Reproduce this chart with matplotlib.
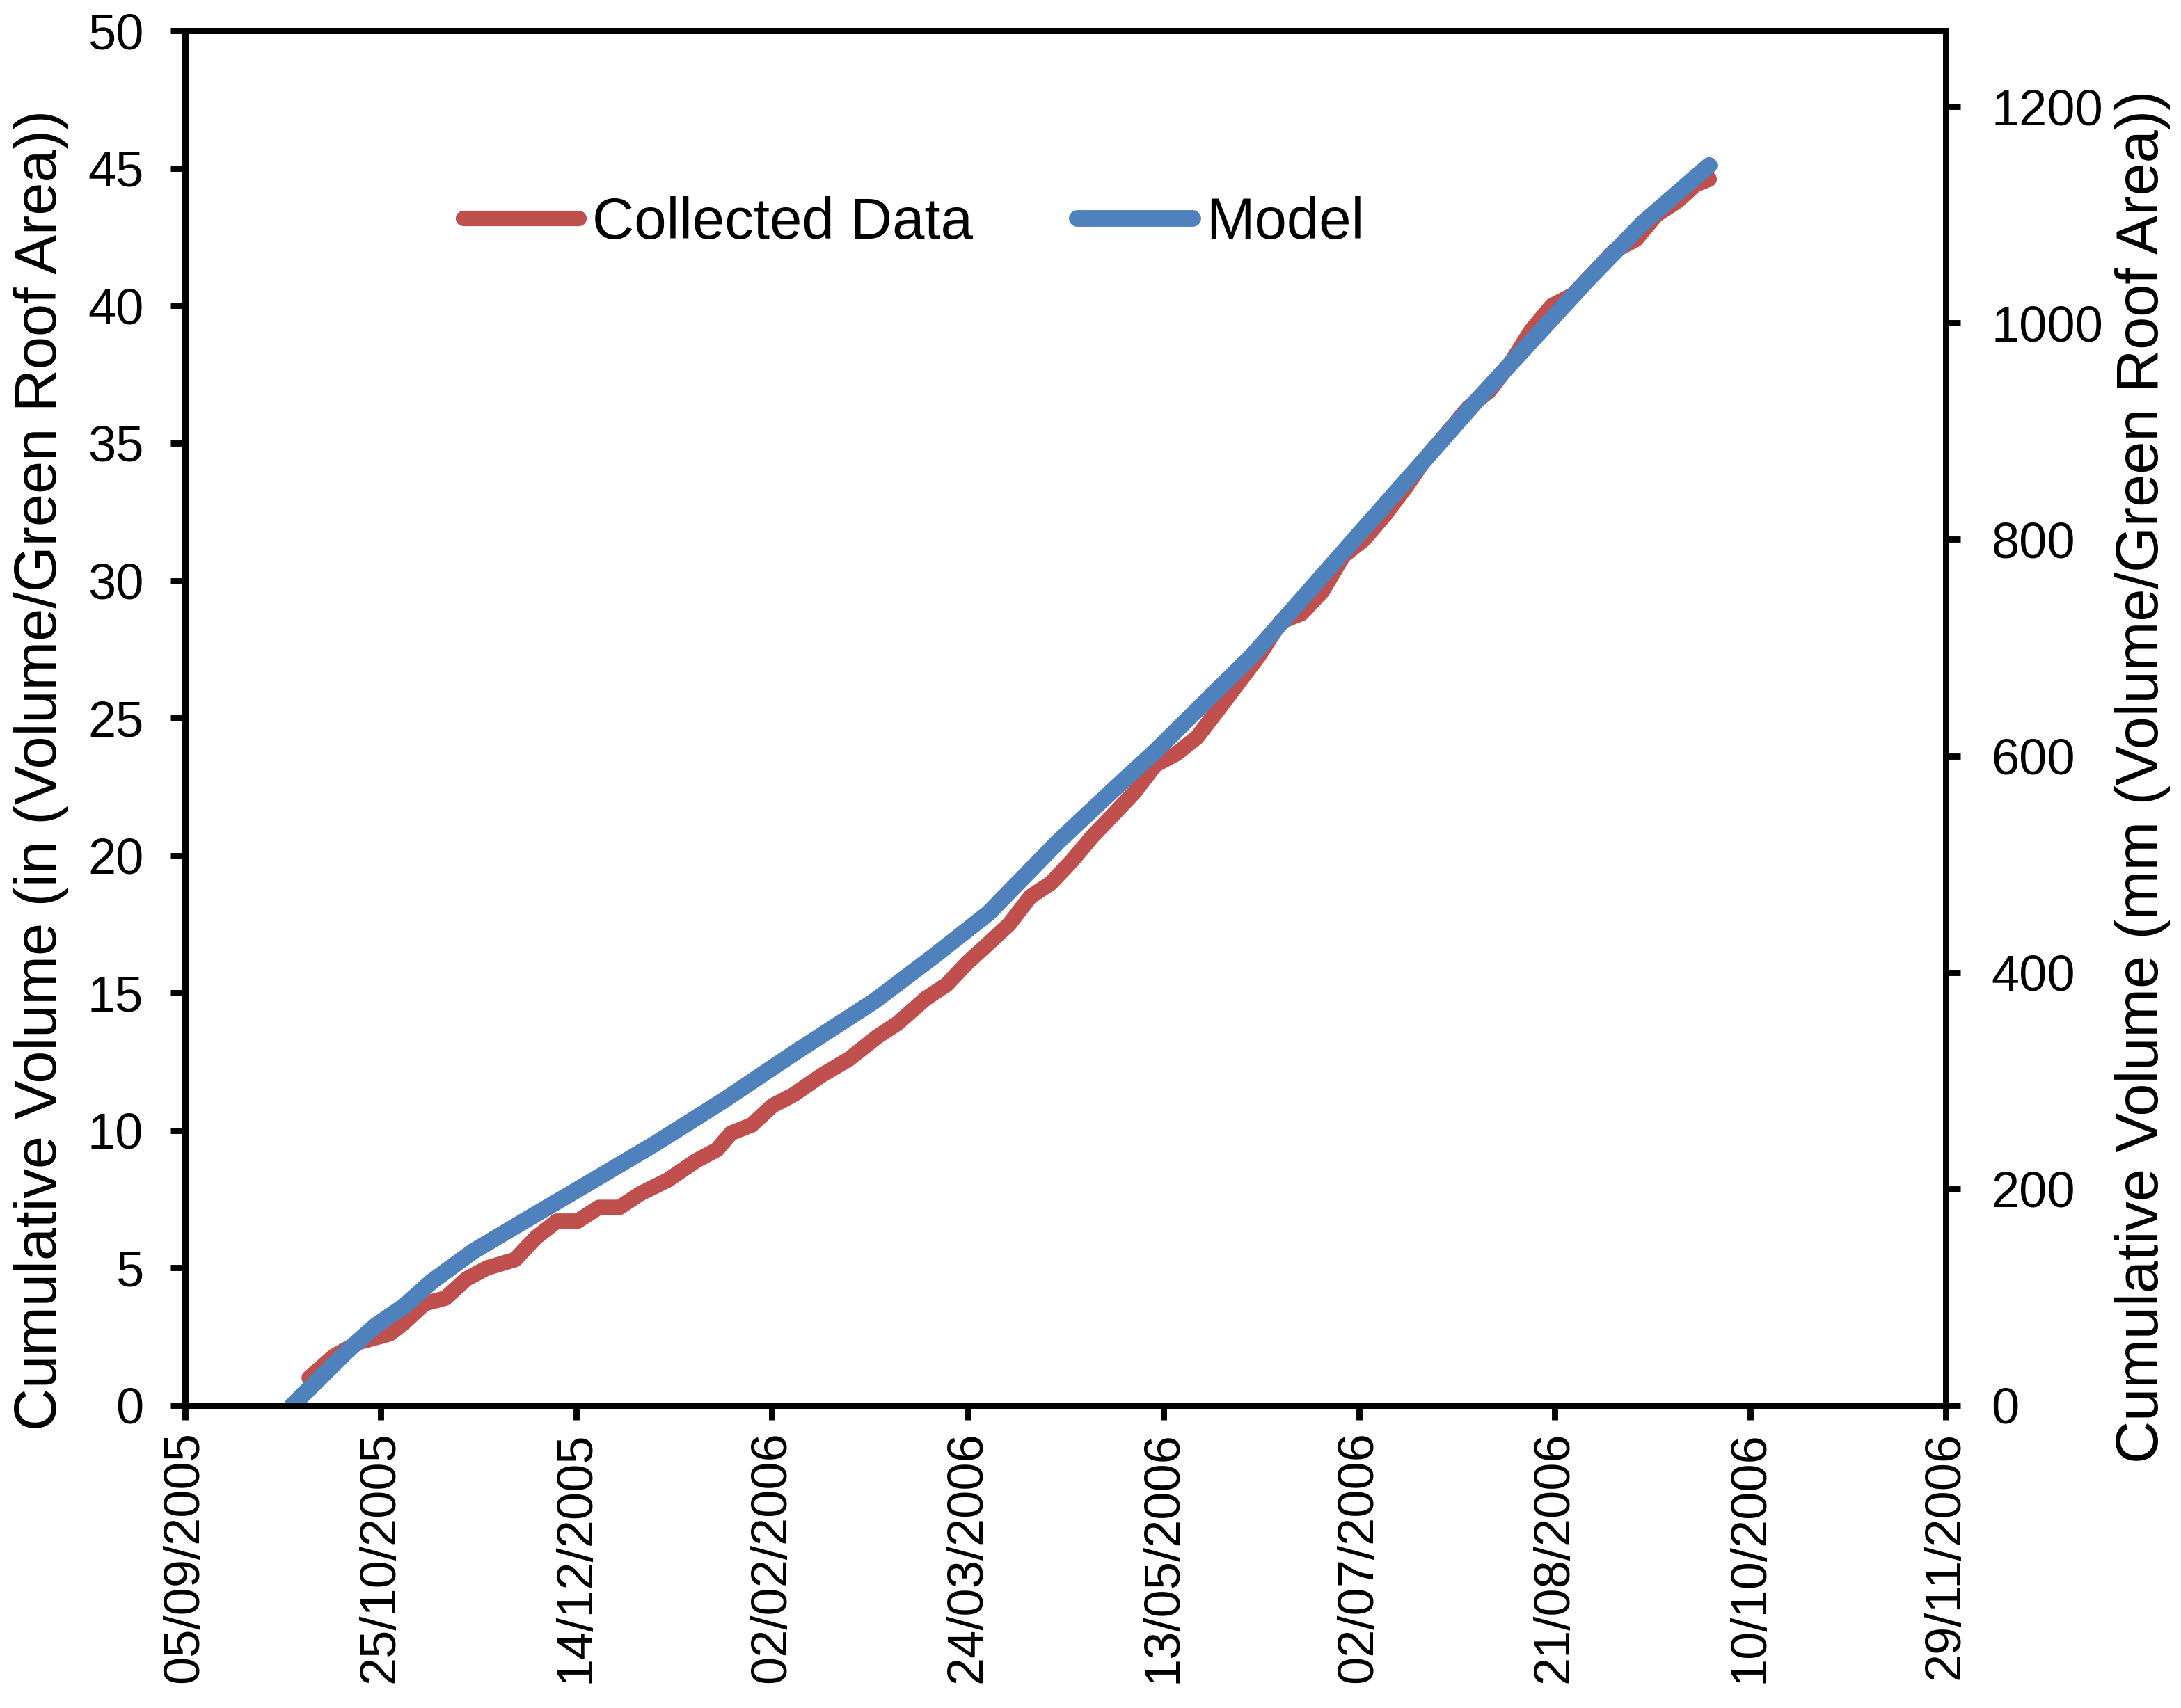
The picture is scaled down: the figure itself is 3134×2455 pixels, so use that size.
import numpy as np
import pandas as pd
import matplotlib
matplotlib.use("Agg")
import matplotlib.pyplot as plt
import matplotlib.dates as mdates

plt.rcParams['font.family'] = ['Liberation Sans', 'DejaVu Sans']

start_date = "2005-09-05"
end_date = "2006-11-29"

# days after start_date
model_days = [27.4, 34.5, 41.6, 48.7, 55.9, 63.0, 73.6, 85.4, 102.1, 119.9, 137.7,
              155.5, 176.1, 191.0, 205.3, 223.1, 237.3, 248.0, 262.2, 272.9, 287.1,
              301.3, 315.6, 329.8, 344.0, 358.2, 372.5, 389.5]
model_in = [0.0, 1.0, 2.0, 2.9, 3.6, 4.5, 5.6, 6.6, 8.0, 9.5, 11.1,
            12.8, 14.7, 16.3, 17.9, 20.5, 22.4, 23.8, 25.8, 27.3, 29.6,
            31.9, 34.2, 36.5, 38.7, 40.9, 43.0, 45.1]

collected_days = [31.7, 38.1, 44.5, 52.3, 55.9, 61.2, 66.5, 71.9, 77.2, 84.3, 89.6,
                  95.0, 100.3, 105.7, 111.0, 116.3, 123.4, 130.6, 135.9, 139.5, 144.8,
                  150.1, 155.5, 162.6, 169.7, 176.8, 182.1, 189.3, 194.6, 199.9, 205.3,
                  210.6, 216.0, 221.3, 226.6, 231.9, 237.3, 242.6, 248.0, 253.3, 258.6,
                  264.0, 269.3, 274.6, 280.0, 285.3, 290.6, 296.0, 301.3, 306.7, 312.0,
                  317.3, 322.7, 328.0, 333.3, 338.7, 344.0, 349.3, 354.7, 360.0, 365.3,
                  370.7, 376.0, 381.4, 386.0, 389.5]
collected_in = [1.0, 1.8, 2.3, 2.6, 3.0, 3.7, 3.9, 4.6, 5.0, 5.3, 6.1,
                6.7, 6.7, 7.2, 7.2, 7.7, 8.2, 8.9, 9.3, 9.9, 10.2,
                10.9, 11.3, 12.0, 12.6, 13.4, 13.9, 14.8, 15.3, 16.1, 16.8,
                17.5, 18.5, 19.0, 19.8, 20.7, 21.5, 22.3, 23.3, 23.7, 24.3,
                25.3, 26.3, 27.3, 28.5, 28.8, 29.6, 30.9, 31.5, 32.4, 33.4,
                34.5, 35.4, 36.3, 36.9, 37.9, 39.1, 40.0, 40.4, 41.2, 42.0,
                42.4, 43.3, 43.8, 44.4, 44.6]

x_tick_step_days = 50
left_ticks = [0, 5, 10, 15, 20, 25, 30, 35, 40, 45, 50]
right_ticks = [0, 200, 400, 600, 800, 1000, 1200]

t0 = pd.Timestamp(start_date)
model_dates = t0 + pd.to_timedelta(model_days, unit="D")
coll_dates = t0 + pd.to_timedelta(collected_days, unit="D")

fig = plt.figure(figsize=(15.67, 12.275), dpi=200)
ax = fig.add_axes([0.0849, 0.1772, 0.8073, 0.8048])

red = "#C0504D"
blue = "#4F81BD"
ax.plot(coll_dates, collected_in, color=red, lw=8.0, solid_capstyle='round',
        solid_joinstyle='round', label="Collected Data", zorder=3)
ax.plot(model_dates, model_in, color=blue, lw=8.6, solid_capstyle='round',
        solid_joinstyle='round', label="Model", zorder=4)

ax.set_xlim(t0, pd.Timestamp(end_date))
ax.set_ylim(0, 50)
xt = pd.date_range(start_date, end_date, freq=f"{x_tick_step_days}D")
ax.set_xticks(xt)
ax.xaxis.set_major_formatter(mdates.DateFormatter("%d/%m/%Y"))
ax.set_yticks(left_ticks)

for lab in ax.get_xticklabels():
    lab.set_rotation(90)

ax.tick_params(axis='x', direction='out', length=7.5, width=3.2, labelsize=26, pad=6)
ax.tick_params(axis='y', direction='out', length=7.5, width=3.2, labelsize=26, pad=14)
for s in ax.spines.values():
    s.set_linewidth(3.2)

ax.set_ylabel("Cumulative Volume (in (Volume/Green Roof Area))", fontsize=30.5)
ax.yaxis.set_label_coords(-0.066, 0.462)

ax2 = ax.twinx()
ax2.set_ylim(0, 50 * 25.4)
ax2.set_yticks(right_ticks)
ax2.tick_params(axis='y', direction='out', length=7.5, width=3.2, labelsize=26, pad=16)
for s in ax2.spines.values():
    s.set_linewidth(3.2)
ax2.set_ylabel("Cumulative Volume (mm (Volume/Green Roof Area))", fontsize=30.5)
ax2.yaxis.set_label_coords(1.096, 0.4575)

leg = ax.legend(loc='center left', bbox_to_anchor=(0.158, 0.86), ncol=2, frameon=False,
                fontsize=30, handlelength=2.0, handletextpad=0.22, columnspacing=1.8,
                borderpad=0, borderaxespad=0)

fig.savefig("out.png", dpi=200)
